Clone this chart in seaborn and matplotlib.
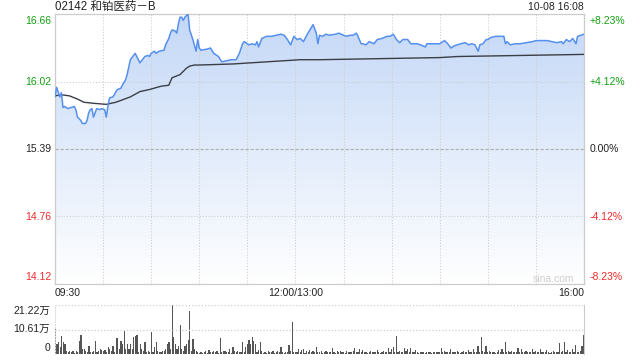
import numpy as np
import matplotlib
matplotlib.use("Agg")
import matplotlib.pyplot as plt
import seaborn as sns
import pandas as pd
from matplotlib.colors import LinearSegmentedColormap

sns.set_style("white")
plt.rcParams['font.family'] = ['Liberation Sans', 'Noto Sans CJK SC', 'DejaVu Sans']

# ---------------- data ----------------
title = "02142 和铂医药－B"
stamp = "10-08 16:08"
prev_close = 15.39
y_low, y_high = 14.12, 16.66
price_ticks = [16.66, 16.02, 15.39, 14.76, 14.12]
price_tick_labels = ["16.66", "16.02", "15.39", "14.76", "14.12"]
pct_tick_labels = ["+8.23%", "+4.12%", "0.00%", "-4.12%", "-8.23%"]
tick_colors = ["#11a011", "#11a011", "#222222", "#f02a2a", "#f02a2a"]
time_labels = ["09:30", "12:00/13:00", "16:00"]
session_minutes = 330
vol_max = 21.22
vol_ticks = [21.22, 10.61, 0]
vol_tick_labels = ["21.22万", "10.61万", "0"]

# minutes since 09:30 (lunch break removed)
price_minutes = [
    0, 1, 3, 4, 5, 6, 8, 10, 12, 13,
    14, 16, 17, 19, 20, 21, 22, 23, 24, 26,
    28, 29, 31, 32, 33, 34, 36, 37, 38, 39,
    41, 42, 44, 45, 46, 47, 49, 50, 52, 53,
    55, 56, 58, 59, 60, 62, 63, 65, 68, 69,
    71, 72, 73, 75, 76, 77, 78, 79, 80, 81,
    83, 84, 86, 88, 89, 90, 91, 95, 97, 99,
    102, 104, 107, 110, 113, 115, 117, 118, 121, 123,
    125, 126, 127, 129, 132, 135, 138, 141, 143, 145,
    147, 149, 151, 153, 155, 157, 159, 161, 163, 164,
    165, 167, 169, 171, 175, 177, 180, 182, 184, 186,
    188, 189, 191, 192, 194, 196, 199, 201, 204, 207,
    209, 211, 213, 215, 217, 220, 222, 226, 228, 231,
    232, 237, 240, 243, 245, 247, 249, 253, 256, 258,
    260, 262, 264, 265, 267, 269, 270, 272, 275, 280,
    281, 282, 284, 287, 290, 294, 298, 300, 304, 307,
    310, 313, 316, 317, 319, 321, 323, 325, 326, 328,
    330]
price_values = [
    15.88, 15.97, 15.88, 15.92, 15.78, 15.79, 15.77, 15.78, 15.79, 15.76,
    15.69, 15.66, 15.63, 15.63, 15.66, 15.73, 15.76, 15.77, 15.69, 15.77,
    15.76, 15.77, 15.76, 15.69, 15.79, 15.87, 15.88, 15.90, 15.93, 15.95,
    15.96, 15.99, 16.04, 16.09, 16.16, 16.23, 16.27, 16.29, 16.23, 16.20,
    16.24, 16.26, 16.27, 16.26, 16.29, 16.31, 16.29, 16.31, 16.32, 16.37,
    16.43, 16.48, 16.51, 16.50, 16.48, 16.57, 16.63, 16.63, 16.60, 16.63,
    16.66, 16.51, 16.42, 16.31, 16.42, 16.34, 16.32, 16.33, 16.34, 16.29,
    16.26, 16.21, 16.22, 16.23, 16.23, 16.29, 16.38, 16.40, 16.37, 16.38,
    16.37, 16.40, 16.35, 16.43, 16.45, 16.45, 16.46, 16.47, 16.46, 16.42,
    16.37, 16.45, 16.42, 16.43, 16.40, 16.46, 16.51, 16.56, 16.48, 16.38,
    16.46, 16.45, 16.47, 16.46, 16.47, 16.48, 16.46, 16.45, 16.46, 16.46,
    16.48, 16.45, 16.38, 16.38, 16.37, 16.40, 16.38, 16.42, 16.43, 16.45,
    16.45, 16.47, 16.42, 16.39, 16.42, 16.42, 16.38, 16.38, 16.37, 16.35,
    16.38, 16.38, 16.38, 16.41, 16.38, 16.34, 16.36, 16.38, 16.39, 16.37,
    16.38, 16.37, 16.31, 16.37, 16.38, 16.42, 16.42, 16.44, 16.45, 16.45,
    16.38, 16.40, 16.37, 16.38, 16.38, 16.39, 16.40, 16.41, 16.41, 16.41,
    16.40, 16.39, 16.40, 16.38, 16.42, 16.40, 16.43, 16.38, 16.45, 16.46,
    16.47]

avg_minutes = [0, 4, 9, 14, 18, 24, 32, 38, 47, 53, 59, 66, 71, 73, 78,
               82, 84, 87, 90, 111, 153, 165, 240, 251, 330]
avg_values = [15.89, 15.90, 15.89, 15.86, 15.83, 15.82, 15.81, 15.83, 15.88,
              15.93, 15.95, 15.98, 15.99, 16.06, 16.09, 16.15, 16.17, 16.18,
              16.18, 16.19, 16.23, 16.23, 16.25, 16.26, 16.28]

# volume per minute, in 万 shares
volumes = [
    11.5, 4.3, 5.0, 3.0, 7.9, 5.0, 4.3, 1.4, 0.8, 1.2,
    0.8, 1.2, 0.6, 1.4, 0.9, 5.8, 8.4, 2.2, 2.2, 1.4,
    0.7, 3.6, 0.9, 0.7, 1.4, 5.8, 0.7, 1.1, 2.2, 1.7,
    1.2, 1.7, 0.8, 3.2, 2.2, 1.4, 3.6, 0.9, 6.9, 6.9,
    2.2, 5.8, 4.3, 10.4, 2.2, 4.3, 2.2, 4.3, 2.2, 7.2,
    7.9, 8.4, 1.0, 4.3, 2.2, 1.4, 5.0, 0.7, 1.4, 0.9,
    9.4, 0.7, 2.9, 5.0, 1.2, 0.7, 0.9, 1.4, 1.2, 2.2,
    4.3, 5.0, 2.2, 21.3, 7.2, 4.3, 2.2, 3.6, 12.7, 2.2,
    1.4, 3.6, 4.3, 6.1, 18.8, 1.4, 6.5, 2.2, 1.4, 0.8,
    0.6, 1.0, 0.5, 0.8, 1.2, 0.6, 1.7, 0.7, 0.9, 1.2,
    0.8, 1.4, 0.6, 6.9, 0.9, 1.2, 1.4, 0.7, 0.8, 2.2,
    0.6, 2.9, 1.2, 0.8, 1.4, 0.9, 0.7, 5.0, 1.0, 2.9,
    4.3, 6.1, 4.3, 7.2, 5.8, 4.3, 0.9, 1.7, 5.0, 1.2,
    0.6, 0.9, 0.5, 1.2, 0.7, 0.8, 1.4, 0.6, 0.9, 1.1,
    0.7, 3.2, 0.8, 0.6, 0.7, 1.0, 4.0, 1.4, 13.7, 0.8,
    0.7, 1.0, 2.2, 0.8, 1.7, 2.2, 0.6, 1.4, 0.9, 1.7,
    0.8, 1.2, 0.7, 2.9, 1.0, 0.9, 1.2, 0.6, 0.9, 1.3,
    0.8, 1.0, 0.7, 2.6, 0.9, 0.6, 1.1, 0.8, 1.2, 0.7,
    0.9, 0.6, 1.4, 0.8, 1.0, 0.7, 1.2, 2.6, 0.9, 0.8,
    2.2, 0.9, 1.7, 0.7, 1.0, 0.6, 0.9, 1.4, 0.8, 0.7,
    1.0, 1.7, 0.8, 0.6, 0.9, 1.1, 0.7, 0.9, 2.6, 1.0,
    2.2, 2.9, 0.8, 7.8, 0.9, 1.2, 0.7, 0.9, 2.6, 1.1,
    2.2, 0.8, 2.6, 0.9, 1.0, 1.7, 0.7, 0.6, 0.9, 0.8,
    1.0, 0.6, 0.8, 0.7, 0.9, 0.6, 1.0, 0.7, 0.8, 0.9,
    0.7, 2.6, 0.9, 1.4, 0.8, 0.7, 1.0, 2.2, 0.8, 0.9,
    0.7, 1.4, 0.8, 0.6, 0.9, 1.2, 0.8, 0.7, 1.7, 0.9,
    0.8, 2.2, 0.7, 1.0, 3.6, 0.9, 7.5, 1.4, 0.8, 3.6,
    0.9, 1.2, 0.7, 0.8, 1.0, 0.6, 0.9, 1.7, 0.8, 2.2,
    0.9, 5.3, 0.8, 1.4, 0.7, 1.2, 0.9, 0.8, 0.7, 2.6,
    0.9, 2.2, 0.8, 0.7, 1.4, 0.9, 0.8, 1.0, 2.2, 0.7,
    1.4, 0.8, 0.9, 2.2, 0.7, 0.9, 1.0, 1.7, 0.8, 0.6,
    0.9, 1.2, 0.8, 0.7, 1.0, 4.9, 0.8, 1.4, 5.3, 0.9,
    1.7, 0.8, 0.9, 2.2, 1.0, 4.0, 0.8, 0.9, 1.4, 3.6,
    8.4]
vol_minutes = list(range(len(volumes)))

# ---------------- figure ----------------
W, H = 640, 360
fig = plt.figure(figsize=(6.4, 3.6), dpi=100)
fig.patch.set_facecolor("white")


def fx(px):
    return px / W


def fy(py):
    return 1 - py / H


L, R = 55, 584
ax = fig.add_axes([fx(L), fy(284), fx(R) - fx(L), fy(14) - fy(284)])
axv = fig.add_axes([fx(L), fy(354), fx(R) - fx(L), fy(305) - fy(354)])

grid_c = "#cfcfcf"
dot = (0, (1, 1.6))

# --- main price panel ---
ax.set_xlim(0, session_minutes)
ax.set_ylim(y_low, y_high)

poly = ax.fill_between(price_minutes, price_values, y_low,
                       facecolor="none", edgecolor="none")
grad = np.linspace(1, 0, 256).reshape(-1, 1)
cmap = LinearSegmentedColormap.from_list("g", ["#ffffff", "#c4d8f7"])
im = ax.imshow(grad, extent=[0, session_minutes, y_low, y_high], aspect="auto",
               cmap=cmap, origin="upper", zorder=1, interpolation="bilinear")
im.set_clip_path(poly.get_paths()[0], transform=ax.transData)

for m in range(30, session_minutes, 30):
    ax.axvline(m, color=grid_c, ls=dot, lw=0.8, zorder=2)
for p in price_ticks[1:-1]:
    if p == prev_close:
        ax.axhline(p, color="#b0b0b0", ls=(0, (3, 1.5)), lw=0.8, zorder=2)
    else:
        ax.axhline(p, color=grid_c, ls=dot, lw=0.8, zorder=2)

sns.lineplot(x=avg_minutes, y=avg_values, ax=ax, color="#3a3f47", lw=1.0, zorder=3)
sns.lineplot(x=price_minutes, y=price_values, ax=ax, color="#5590ee", lw=1.1, zorder=4)
ax.set_xlim(0, session_minutes)
ax.set_ylim(y_low, y_high)
ax.set_xticks([])
ax.set_yticks([])
ax.set_xlabel("")
ax.set_ylabel("")
for s in ax.spines.values():
    s.set_color("#cccccc")
    s.set_linewidth(0.9)

# --- volume panel ---
vdf = pd.DataFrame({"m": vol_minutes, "v": volumes})
sns.barplot(data=vdf, x="m", y="v", native_scale=True, ax=axv, color="#555555",
            saturation=1, width=0.75, errorbar=None, linewidth=0)
axv.set_xlim(-0.3, session_minutes + 0.3)
axv.set_ylim(0, vol_max)
axv.axhline(vol_max, color=grid_c, ls=dot, lw=0.9)
axv.axhline(vol_ticks[1], color=grid_c, ls=dot, lw=0.9)
axv.set_xticks([])
axv.set_yticks([])
axv.set_xlabel("")
axv.set_ylabel("")
for k in ["top", "bottom"]:
    axv.spines[k].set_visible(False)
axv.spines["left"].set_color("#dddddd")
axv.spines["left"].set_linestyle(dot)
axv.spines["right"].set_color("#cccccc")

# --- texts ---
fs = 7.5
fig.text(fx(55), fy(7), title, fontsize=8.3, ha="left", va="center", color="#222222")
fig.text(fx(584), fy(7), stamp, fontsize=7.5, ha="right", va="center", color="#222222")

label_y = [21, 82, 149, 217, 277]
for lab, pct, col, py in zip(price_tick_labels, pct_tick_labels, tick_colors, label_y):
    fig.text(fx(51), fy(py), lab, fontsize=fs, ha="right", va="center", color=col)
    fig.text(fx(590), fy(py), pct, fontsize=fs, ha="left", va="center", color=col)

fig.text(fx(55), fy(293), time_labels[0], fontsize=fs, ha="left", va="center", color="#222222")
fig.text(fx(296), fy(293), time_labels[1], fontsize=fs, ha="center", va="center", color="#222222")
fig.text(fx(584), fy(293), time_labels[2], fontsize=fs, ha="right", va="center", color="#222222")

for lab, py in zip(vol_tick_labels, [311, 329, 348]):
    fig.text(fx(50), fy(py), lab, fontsize=fs, ha="right", va="center", color="#222222")

fig.text(fx(553), fy(279), "sina.com", fontsize=7.5, ha="center", va="center", color="#cfcfcf")

fig.savefig("out.png", dpi=100, facecolor="white")
